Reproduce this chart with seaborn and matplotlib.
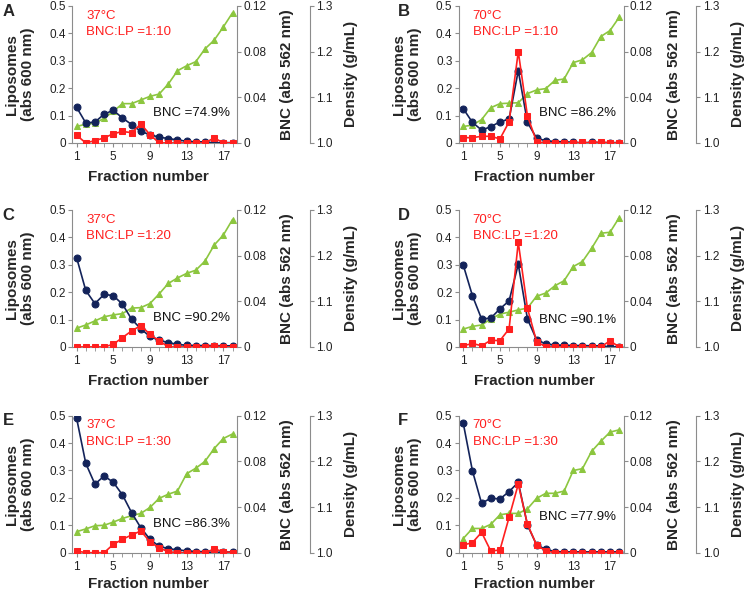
import numpy as np
import matplotlib.pyplot as plt
import seaborn as sns

# === Data ===
fractions = list(range(1, 19))

panels = ['A', 'B', 'C', 'D', 'E', 'F']
temps = ['37\u00b0C', '70\u00b0C', '37\u00b0C', '70\u00b0C', '37\u00b0C', '70\u00b0C']
ratios = ['BNC:LP =1:10', 'BNC:LP =1:10', 'BNC:LP =1:20', 'BNC:LP =1:20',
          'BNC:LP =1:30', 'BNC:LP =1:30']
bnc_pct = ['BNC =74.9%', 'BNC =86.2%', 'BNC =90.2%', 'BNC =90.1%',
           'BNC =86.3%', 'BNC =77.9%']

lipo_A = [0.130, 0.073, 0.076, 0.105, 0.119, 0.091, 0.067, 0.042, 0.030,
          0.021, 0.016, 0.011, 0.006, 0.004, 0.004, 0.000, 0.001, 0.001]
bnc_A = [0.0067, 0.0, 0.0020, 0.0044, 0.0080, 0.0100, 0.0090, 0.0166, 0.0073,
         0.0, 0.0, 0.0, 0.0, 0.0, 0.0, 0.0044, 0.0, 0.0]
dens_A = [1.036, 1.041, 1.043, 1.054, 1.069, 1.086, 1.086, 1.094, 1.102,
          1.107, 1.129, 1.158, 1.169, 1.178, 1.206, 1.225, 1.254, 1.285]

lipo_B = [0.125, 0.075, 0.047, 0.059, 0.077, 0.087, 0.264, 0.075, 0.017,
          0.008, 0.005, 0.004, 0.002, 0.000, 0.002, 0.001, 0.001, 0.001]
bnc_B = [0.0046, 0.0046, 0.0058, 0.0058, 0.0035, 0.0185, 0.0800, 0.0237, 0.0010,
         0.0, 0.0, 0.0, 0.0, 0.0005, 0.0, 0.0008, 0.0, 0.0]
dens_B = [1.036, 1.039, 1.051, 1.077, 1.086, 1.087, 1.088, 1.108, 1.116,
          1.119, 1.137, 1.140, 1.176, 1.182, 1.198, 1.233, 1.246, 1.275]

lipo_C = [0.326, 0.206, 0.158, 0.192, 0.187, 0.156, 0.101, 0.066, 0.038,
          0.024, 0.016, 0.009, 0.006, 0.005, 0.005, 0.005, 0.004, 0.004]
bnc_C = [0.0, 0.0, 0.0, 0.0, 0.0023, 0.0082, 0.0140, 0.0187, 0.0110,
         0.0053, 0.0, 0.0, 0.0, 0.0, 0.0, 0.0010, 0.0, 0.0]
dens_C = [1.041, 1.048, 1.057, 1.066, 1.070, 1.073, 1.085, 1.086, 1.095,
          1.116, 1.139, 1.151, 1.161, 1.168, 1.188, 1.223, 1.245, 1.279]

lipo_D = [0.299, 0.187, 0.102, 0.105, 0.139, 0.168, 0.302, 0.102, 0.026,
          0.011, 0.007, 0.006, 0.005, 0.005, 0.004, 0.004, 0.000, 0.001]
bnc_D = [0.0010, 0.0030, 0.0010, 0.0058, 0.0055, 0.0158, 0.0917, 0.0339, 0.0047,
         0.0, 0.0, 0.0, 0.0, 0.0, 0.0, 0.0, 0.0053, 0.0]
dens_D = [1.039, 1.045, 1.048, 1.061, 1.072, 1.076, 1.081, 1.085, 1.111,
          1.118, 1.134, 1.145, 1.176, 1.187, 1.216, 1.249, 1.251, 1.283]

lipo_E = [0.491, 0.326, 0.250, 0.280, 0.257, 0.211, 0.146, 0.091, 0.049,
          0.023, 0.015, 0.010, 0.007, 0.004, 0.004, 0.000, 0.003, 0.002]
bnc_E = [0.0015, 0.0, 0.0, 0.0, 0.0073, 0.0117, 0.0155, 0.0190, 0.0096,
         0.0041, 0.0009, 0.0, 0.0, 0.0, 0.0, 0.0032, 0.0010, 0.0]
dens_E = [1.046, 1.052, 1.059, 1.060, 1.067, 1.075, 1.081, 1.086, 1.099,
          1.119, 1.128, 1.135, 1.173, 1.185, 1.200, 1.228, 1.250, 1.260]

lipo_F = [0.473, 0.299, 0.180, 0.199, 0.196, 0.223, 0.257, 0.101, 0.028,
          0.012, 0.004, 0.003, 0.003, 0.003, 0.003, 0.003, 0.003, 0.003]
bnc_F = [0.0067, 0.0088, 0.0178, 0.0015, 0.0023, 0.0310, 0.0600, 0.0249, 0.0067,
         0.0015, 0.0, 0.0, 0.0, 0.0, 0.0, 0.0, 0.0, 0.0]
dens_F = [1.031, 1.053, 1.053, 1.062, 1.083, 1.086, 1.086, 1.096, 1.119,
          1.130, 1.130, 1.135, 1.180, 1.184, 1.222, 1.244, 1.264, 1.269]

lipo_all = [lipo_A, lipo_B, lipo_C, lipo_D, lipo_E, lipo_F]
bnc_all = [bnc_A, bnc_B, bnc_C, bnc_D, bnc_E, bnc_F]
dens_all = [dens_A, dens_B, dens_C, dens_D, dens_E, dens_F]

# === Style ===
sns.set_style('ticks')
plt.rcParams['font.family'] = ['Liberation Sans', 'DejaVu Sans']

NAVY = '#13235a'
RED = '#ff1f1f'
GREEN = '#8cc63f'
SPINE = '#8c8c8c'

fig = plt.figure(figsize=(7.47, 5.93), dpi=100)

col_left = [0.0964, 0.614]
row_bottom = [0.759, 0.415, 0.068]
ax_w, ax_h = 0.221, 0.231
pct_y = [0.22, 0.22, 0.21, 0.20, 0.21, 0.26]
xlabel_y = [-0.20, -0.20, -0.175]


def style_axis(a, side):
    for s in a.spines.values():
        s.set_visible(False)
    a.spines[side].set_visible(True)
    a.spines[side].set_color(SPINE)
    a.tick_params(axis='y', colors='#222222', labelsize=8.5, length=3,
                  color=SPINE, pad=1.5)


for i, p in enumerate(panels):
    r, c = divmod(i, 2)
    ax = fig.add_axes([col_left[c], row_bottom[r], ax_w, ax_h])
    ax2 = ax.twinx()
    ax3 = ax.twinx()

    # density at the back, liposomes in the middle, BNC on top
    ax3.set_zorder(1)
    ax.set_zorder(2)
    ax2.set_zorder(3)
    for a in (ax, ax2, ax3):
        a.patch.set_visible(False)

    sns.lineplot(x=fractions, y=dens_all[i], ax=ax3, color=GREEN, marker='^',
                 markersize=5, markeredgecolor=GREEN, linewidth=1.2)
    sns.lineplot(x=fractions, y=lipo_all[i], ax=ax, color=NAVY, marker='o',
                 markersize=5, markeredgecolor=NAVY, linewidth=1.2)
    sns.lineplot(x=fractions, y=bnc_all[i], ax=ax2, color=RED, marker='s',
                 markersize=5, markeredgecolor=RED, linewidth=1.2)

    ax.set_xlim(0.5, 18.5)
    ax.set_ylim(0, 0.5)
    ax2.set_ylim(0, 0.12)
    ax3.set_ylim(1.0, 1.3)

    # left axis
    style_axis(ax, 'left')
    ax.spines['bottom'].set_visible(True)
    ax.spines['bottom'].set_color(SPINE)
    ax.set_yticks([0, 0.1, 0.2, 0.3, 0.4, 0.5])
    ax.set_yticklabels(['0', '0.1', '0.2', '0.3', '0.4', '0.5'])
    ax.set_xticks([1, 5, 9, 13, 17])
    ax.set_xticks(fractions, minor=True)
    ax.tick_params(axis='x', which='both', length=3, color=SPINE,
                   labelsize=8.5, labelcolor='#222222', pad=3)
    ax.set_ylabel('Liposomes\n(abs 600 nm)', fontsize=11, fontweight='bold',
                  linespacing=1.15)
    ax.yaxis.set_label_coords(-0.225, 0.5)
    ax.set_xlabel('Fraction number', fontsize=11, fontweight='bold')
    ax.xaxis.set_label_coords(0.46, xlabel_y[r])

    # BNC axis
    style_axis(ax2, 'right')
    ax2.set_yticks([0, 0.04, 0.08, 0.12])
    ax2.set_yticklabels(['0', '0.04', '0.08', '0.12'])
    ax2.set_ylabel('BNC (abs 562 nm)', fontsize=11, fontweight='bold')
    ax2.yaxis.set_label_coords(1.26, 0.5)

    # density axis
    style_axis(ax3, 'right')
    ax3.spines['right'].set_position(('axes', 1.44))
    ax3.set_yticks([1.0, 1.1, 1.2, 1.3])
    ax3.set_yticklabels(['1.0', '1.1', '1.2', '1.3'])
    ax3.set_ylabel('Density (g/mL)', fontsize=11, fontweight='bold')
    ax3.yaxis.set_label_coords(1.65, 0.5)

    ax.text(0.085, 0.93, temps[i], transform=ax.transAxes, color=RED,
            fontsize=9.5, va='center', ha='left')
    ax.text(0.085, 0.81, ratios[i], transform=ax.transAxes, color=RED,
            fontsize=9.5, va='center', ha='left')
    ax.text(0.955, pct_y[i], bnc_pct[i], transform=ax.transAxes, color='#111111',
            fontsize=9.5, va='center', ha='right')

    fig.text(col_left[c] - (0.093 if c == 0 else 0.082), row_bottom[r] + ax_h + 0.004,
             p, fontsize=12, fontweight='bold', va='top', ha='left')

fig.savefig('out.png', dpi=100)
